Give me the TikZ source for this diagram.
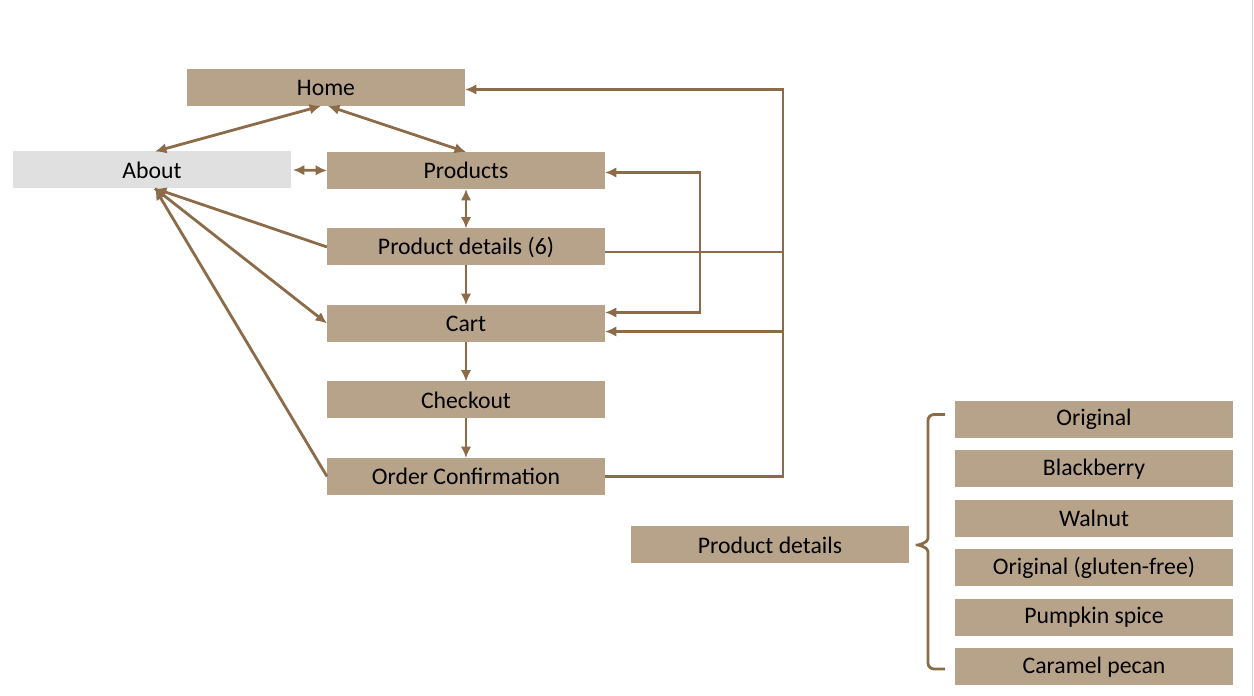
\documentclass[tikz,border=0pt]{standalone}
\usepackage{fontspec}
\setmainfont{Carlito}
\usetikzlibrary{arrows.meta,positioning}
\definecolor{boxtan}{HTML}{B6A38A}
\definecolor{aboutgray}{HTML}{E1E0E1}
\definecolor{linebrown}{HTML}{8C6C48}
\tikzstyle{page} = [rectangle, fill=boxtan, minimum width=5.56cm, minimum height=0.74cm, inner sep=0pt, outer sep=0pt, font=\fontsize{13.5}{15}\selectfont]
\tikzstyle{aboutpage} = [page, fill=aboutgray]
\tikzstyle{line} = [draw=linebrown, line width=1.6pt]
\tikzstyle{arrow} = [line, -{Latex[length=6.5pt,width=6pt]}]
\tikzstyle{darrow} = [line, {Latex[length=6.5pt,width=6pt]}-{Latex[length=6.5pt,width=6pt]}]

\begin{document}
\begin{tikzpicture}[node distance=0.79cm]
    \useasboundingbox (0,0) rectangle (25.08,13.92);
    \draw [gray!35, line width=0.6pt] (25.05,0) -- (25.05,13.92);

    \node (home) [page] at (6.52,12.17) {Home};
    \node (about) [aboutpage] at (3.04,10.52) {About};
    \node (products) [page] at (9.32,10.51) {Products};
    \node (pd6) [page, below=of products] {Product details (6)};
    \node (cart) [page, below=of pd6] {Cart};
    \node (checkout) [page, below=of cart] {Checkout};
    \node (oc) [page, below=of checkout] {Order Confirmation};

    \node (pdr) [page] at (15.4,3.02) {Product details};
    \node (orig) [page] at (21.88,5.53) {Original};
    \node (blackberry) [page, below=0.25cm of orig] {Blackberry};
    \node (walnut) [page, below=0.25cm of blackberry] {Walnut};
    \node (glutenfree) [page, below=0.25cm of walnut] {Original (gluten-free)};
    \node (pumpkin) [page, below=0.25cm of glutenfree] {Pumpkin spice};
    \node (caramel) [page, below=0.25cm of pumpkin] {Caramel pecan};

    \coordinate (lp) at (14.0,9.0);
    \coordinate (bus) at (15.66,6.0);
    \coordinate (tip) at ([xshift=0.06cm]pdr.east);

    % main column
    \draw [darrow] ([xshift=-0.1cm]home.south) -- ([xshift=0.06cm]about.north);
    \draw [darrow] ([xshift=0.04cm]home.south) -- (products.north);
    \draw [darrow] ([xshift=0.04cm]about.east) -- (products.west);
    \draw [darrow] (products) -- (pd6);
    \draw [arrow] (pd6) -- (cart);
    \draw [arrow] (cart) -- (checkout);
    \draw [arrow] (checkout) -- (oc);

    % back to about
    \draw [arrow] (pd6.west) -- ([xshift=0.06cm]about.south);
    \draw [arrow] (oc.west) -- ([xshift=0.06cm]about.south);
    \draw [arrow] ([xshift=0.06cm]about.south) -- (cart.west);

    % right side
    \draw [darrow] ([yshift=-0.04cm]products.east) -| (lp) |- ([yshift=0.22cm]cart.east);
    \draw [arrow] (oc.east) -| (bus) |- ([yshift=-0.04cm]home.east);
    \draw [line] ([yshift=-0.1cm]pd6.east) -- ([yshift=-0.1cm]pd6.east -| bus);
    \draw [arrow] ([yshift=-0.16cm]cart.east -| bus) -- ([yshift=-0.16cm]cart.east);

    % brace
    \draw [line, rounded corners=0.12cm] ([xshift=-0.2cm,yshift=0.1cm]orig.west) -| ([xshift=0.32cm,yshift=0.25cm]tip)
        .. controls ([xshift=0.32cm,yshift=0.04cm]tip) and ([xshift=0.12cm]tip) .. (tip)
        .. controls ([xshift=0.12cm]tip) and ([xshift=0.32cm,yshift=-0.04cm]tip) .. ([xshift=0.32cm,yshift=-0.25cm]tip)
        |- ([xshift=-0.2cm,yshift=-0.04cm]caramel.west);
\end{tikzpicture}
\end{document}
